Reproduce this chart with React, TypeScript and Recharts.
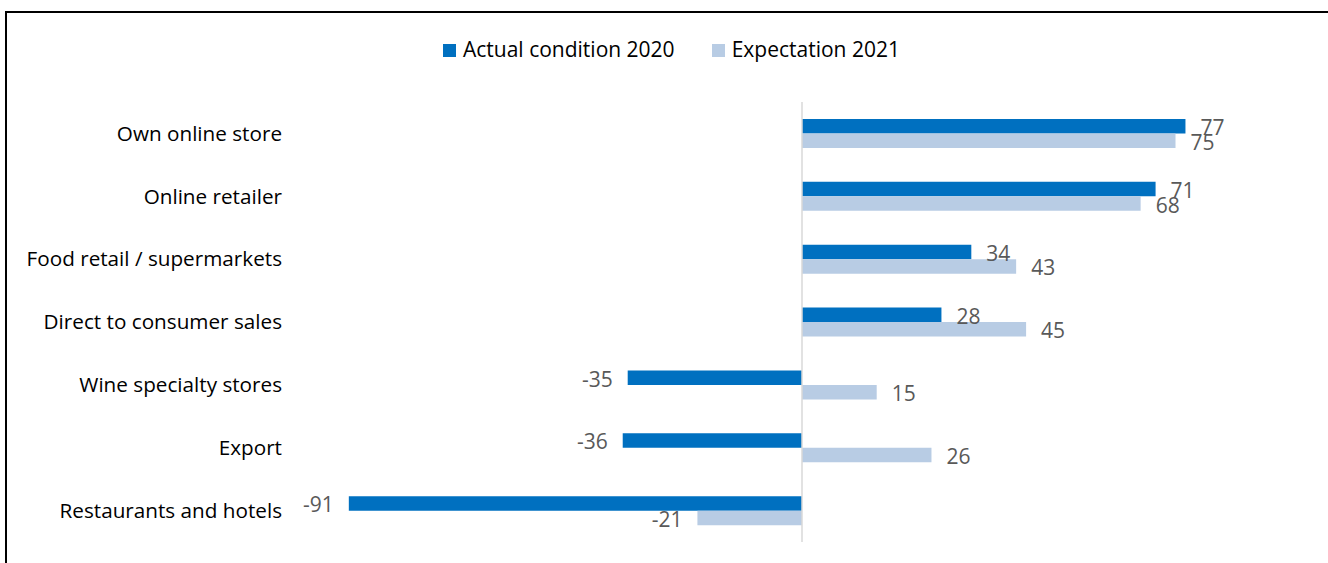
import { Bar, BarChart, LabelList, ReferenceLine, XAxis, YAxis } from "recharts"

const categories = [
  "Own online store",
  "Online retailer",
  "Food retail / supermarkets",
  "Direct to consumer sales",
  "Wine specialty stores",
  "Export",
  "Restaurants and hotels",
]
const actual2020 = [77, 71, 34, 28, -35, -36, -91]
const expectation2021 = [75, 68, 43, 45, 15, 26, -21]

const seriesNames = ["Actual condition 2020", "Expectation 2021"]
const seriesColors = ["#0070C0", "#B8CCE4"]

const data = categories.map((name, i) => ({
  name,
  actual: actual2020[i],
  expectation: expectation2021[i],
}))

const FONT = "'Open Sans', sans-serif"

const ValueLabel = (props: any) => {
  const { x, y, width, height, value } = props
  const left = Math.min(x, x + width)
  const right = Math.max(x, x + width)
  const neg = value < 0
  return (
    <text
      x={neg ? left - 15 : right + 15}
      y={y + height / 2 + 1.5}
      dy="0.355em"
      textAnchor={neg ? "end" : "start"}
      fill="#595959"
      fontSize={21}
      fontFamily={FONT}
    >
      {value}
    </text>
  )
}

export default function App() {
  return (
    <div
      style={{
        position: "absolute",
        left: 0,
        top: 0,
        width: 1328,
        height: 563,
        overflow: "hidden",
        background: "#fff",
      }}
    >
      <div
        style={{
          position: "absolute",
          left: 5,
          top: 11,
          width: 1400,
          height: 600,
          border: "2px solid #000",
        }}
      />
      {/* legend */}
      <div
        style={{
          position: "absolute",
          left: 443,
          top: 35,
          display: "flex",
          alignItems: "center",
          fontFamily: FONT,
          fontSize: 21,
          color: "#000",
          whiteSpace: "nowrap",
        }}
      >
        {seriesNames.map((s, i) => (
          <div key={s} style={{ display: "flex", alignItems: "center", marginRight: 37 }}>
            <span
              style={{
                display: "inline-block",
                width: 13,
                height: 13,
                background: seriesColors[i],
                marginRight: 7,
                marginTop: 3,
              }}
            />
            <span>{s}</span>
          </div>
        ))}
      </div>
      <div style={{ position: "absolute", left: 0, top: 0 }}>
        <BarChart
          width={1328}
          height={563}
          data={data}
          layout="vertical"
          margin={{ top: 102, right: 28, bottom: 21, left: 0 }}
          barGap={0}
          barSize={14.5}
        >
          <XAxis type="number" domain={[-100, 100]} hide />
          <YAxis
            type="category"
            dataKey="name"
            width={304}
            axisLine={false}
            tickLine={false}
            tickSize={0}
            tickMargin={22}
            interval={0}
            tick={{ fill: "#000", fontSize: 20.7, fontFamily: FONT }}
          />
          <ReferenceLine x={0} stroke="#D9D9D9" strokeWidth={1.5} />
          <Bar dataKey="actual" name={seriesNames[0]} fill={seriesColors[0]} isAnimationActive={false}>
            <LabelList dataKey="actual" content={ValueLabel} />
          </Bar>
          <Bar dataKey="expectation" name={seriesNames[1]} fill={seriesColors[1]} isAnimationActive={false}>
            <LabelList dataKey="expectation" content={ValueLabel} />
          </Bar>
        </BarChart>
      </div>
    </div>
  )
}
